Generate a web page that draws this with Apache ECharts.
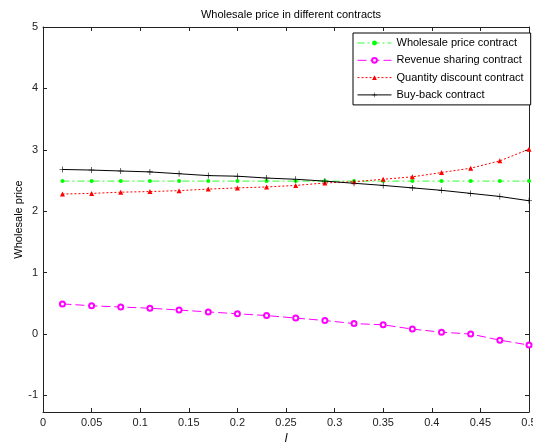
<!DOCTYPE html>
<html>
<head>
    <meta charset="utf-8">
    <title>Wholesale price in different contracts</title>
    <script src="https://cdn.jsdelivr.net/npm/echarts@6/dist/echarts.min.js"></script>
    <style>
        html, body { margin: 0; padding: 0; background: #fff; }
    </style>
</head>
<body>
    <div id="main" style="width: 533px;height:443px;"></div>
    <script type="text/javascript">
        // x values (l)
        var lValues = [0.02, 0.05, 0.08, 0.11, 0.14, 0.17, 0.20, 0.23, 0.26, 0.29, 0.32, 0.35, 0.38, 0.41, 0.44, 0.47, 0.50];
        // wholesale price for each contract
        var wholesaleContract = [2.49, 2.49, 2.49, 2.49, 2.49, 2.49, 2.49, 2.49, 2.49, 2.49, 2.49, 2.49, 2.49, 2.49, 2.49, 2.49, 2.49];
        var revenueSharing = [0.49, 0.46, 0.44, 0.42, 0.39, 0.36, 0.33, 0.30, 0.26, 0.22, 0.17, 0.15, 0.08, 0.03, 0.00, -0.10, -0.18];
        var quantityDiscount = [2.28, 2.29, 2.31, 2.32, 2.335, 2.36, 2.38, 2.395, 2.42, 2.46, 2.48, 2.52, 2.56, 2.63, 2.70, 2.82, 3.01];
        var buyBack = [2.68, 2.67, 2.655, 2.64, 2.61, 2.58, 2.57, 2.54, 2.52, 2.49, 2.455, 2.42, 2.38, 2.34, 2.29, 2.24, 2.17];
        var seriesNames = ['Wholesale price contract', 'Revenue sharing contract', 'Quantity discount contract', 'Buy-back contract'];

        function pairs(ys) {
            var out = [];
            for (var i = 0; i < lValues.length; i++) {
                out.push([lValues[i], ys[i]]);
            }
            return out;
        }

        var myChart = echarts.init(document.getElementById('main'));
        var axisColor = '#222';
        var font = 'Liberation Sans, Arial, sans-serif';
        var plusPath = 'path://M4.5,0h1v10h-1zM0,4.5h10v1h-10z';

        // y labels only on integers
        function yLabel(v) {
            return Math.abs(v - Math.round(v)) < 1e-6 ? String(Math.round(v)) : '';
        }

        var option = {
            animation: false,
            backgroundColor: '#fff',
            title: {
                text: 'Wholesale price in different contracts',
                left: 286,
                top: 4,
                textAlign: 'center',
                textStyle: { fontFamily: font, fontSize: 11, fontWeight: 'normal', color: '#000' }
            },
            legend: {
                data: seriesNames,
                orient: 'vertical',
                left: 353,
                top: 33,
                padding: [4, 7, 4, 4],
                borderColor: '#000',
                borderWidth: 1,
                backgroundColor: '#fff',
                itemWidth: 34,
                itemHeight: 6,
                itemGap: 5.3,
                lineStyle: { width: 1 },
                textStyle: { fontFamily: font, fontSize: 11, color: '#000', lineHeight: 12 }
            },
            grid: { left: 43, right: 4, top: 27, bottom: 31, outerBoundsMode: 'none' },
            xAxis: [{
                type: 'value',
                min: 0,
                max: 0.5,
                interval: 0.05,
                name: 'l',
                nameLocation: 'middle',
                nameGap: 20,
                nameTextStyle: { fontFamily: font, fontSize: 12, fontStyle: 'italic', color: '#000' },
                axisLine: { show: true, onZero: false, lineStyle: { color: axisColor } },
                axisTick: { inside: true, length: 4, lineStyle: { color: axisColor } },
                axisLabel: { fontFamily: font, fontSize: 11, color: '#222', margin: 5,
                    formatter: function (v) { return String(Math.round(v * 100) / 100); } },
                splitLine: { show: false }
            }, {
                type: 'value',
                position: 'top',
                min: 0,
                max: 0.5,
                interval: 0.05,
                axisLine: { show: true, onZero: false, lineStyle: { color: axisColor } },
                axisTick: { inside: true, length: 4, lineStyle: { color: axisColor } },
                axisLabel: { show: false },
                splitLine: { show: false }
            }],
            yAxis: [{
                type: 'value',
                min: -1.27,
                max: 5,
                splitNumber: 6,
                name: 'Wholesale price',
                nameLocation: 'middle',
                nameGap: 19,
                nameMoveOverlap: false,
                nameTextStyle: { fontFamily: font, fontSize: 11, color: '#000' },
                axisLine: { show: true, onZero: false, lineStyle: { color: axisColor } },
                axisTick: { inside: true, length: 4, lineStyle: { color: axisColor } },
                axisLabel: { fontFamily: font, fontSize: 11, color: '#222', margin: 5, formatter: yLabel },
                splitLine: { show: false }
            }, {
                type: 'value',
                position: 'right',
                min: -1.27,
                max: 5,
                splitNumber: 6,
                axisLine: { show: true, onZero: false, lineStyle: { color: axisColor } },
                axisTick: { inside: true, length: 4, lineStyle: { color: axisColor } },
                axisLabel: { show: false },
                splitLine: { show: false }
            }],
            series: [
                {
                    name: seriesNames[0],
                    type: 'line',
                    data: pairs(wholesaleContract),
                    symbol: 'circle',
                    symbolSize: 4,
                    itemStyle: { color: '#00ff00' },
                    lineStyle: { color: '#33ff33', width: 1, type: [7, 3, 2, 3] }
                },
                {
                    name: seriesNames[1],
                    type: 'line',
                    data: pairs(revenueSharing),
                    symbol: 'emptyCircle',
                    symbolSize: 5,
                    itemStyle: { color: '#ff00ff', borderColor: '#ff00ff', borderWidth: 1 },
                    lineStyle: { color: '#ff00ff', width: 1, type: [9, 4] }
                },
                {
                    name: seriesNames[2],
                    type: 'line',
                    data: pairs(quantityDiscount),
                    symbol: 'triangle',
                    symbolSize: 5,
                    itemStyle: { color: '#ff0000' },
                    lineStyle: { color: '#ff0000', width: 1, type: [2, 2] }
                },
                {
                    name: seriesNames[3],
                    type: 'line',
                    data: pairs(buyBack),
                    symbol: plusPath,
                    symbolSize: 6,
                    itemStyle: { color: '#000' },
                    lineStyle: { color: '#000', width: 1, type: 'solid' }
                }
            ]
        };
        myChart.setOption(option);
    </script>
</body>
</html>
